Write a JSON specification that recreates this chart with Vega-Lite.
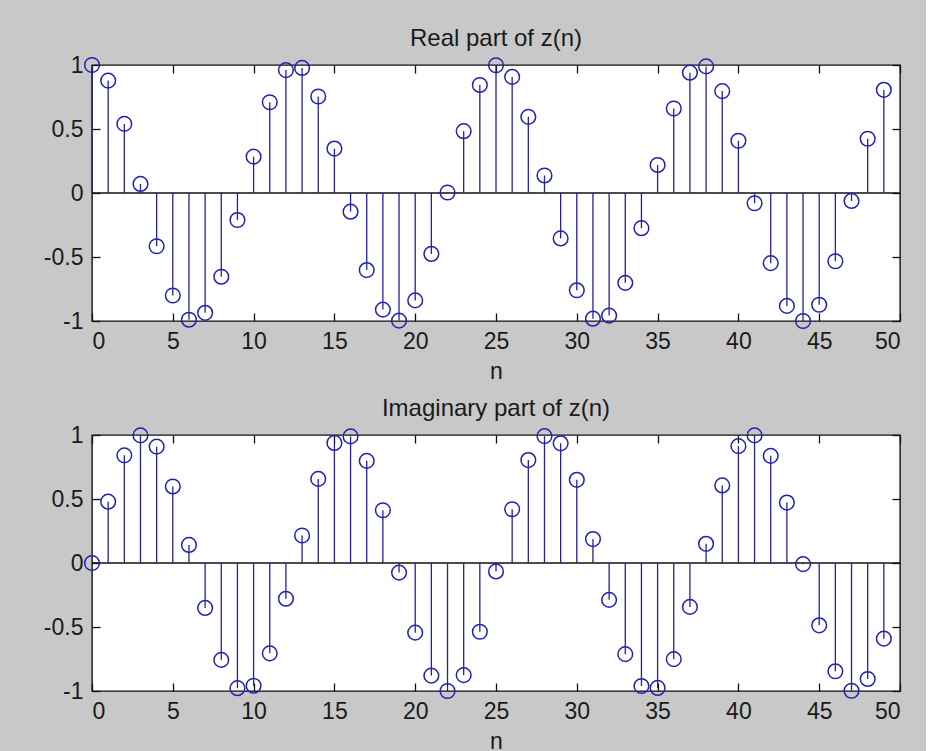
{
  "$schema": "https://vega.github.io/schema/vega-lite/v6.json",
  "background": "#c8c8c8",
  "padding": {"left": 42, "top": 26, "right": 24, "bottom": 2},
  "bounds": "flush",
  "spacing": 114,
  "config": {
    "font": "Liberation Sans",
    "view": {"stroke": "#111111", "strokeWidth": 1.4, "fill": "white"},
    "axis": {"grid": false, "domain": false, "tickSize": -8, "tickColor": "#111111", "tickWidth": 1.3, "labelFontSize": 23, "labelColor": "#1a1a1a", "labelPadding": 17, "titleFontSize": 23, "titleFontWeight": "normal", "titleColor": "#1a1a1a", "titlePadding": 7},
    "title": {"fontSize": 24, "fontWeight": "normal", "color": "#1a1a1a", "offset": 3}
  },
  "datasets": {
    "z": [
      {"n":0,"re":1,"im":0},{"n":1,"re":0.878,"im":0.479},{"n":2,"re":0.54,"im":0.841},{"n":3,"re":0.071,"im":0.997},{"n":4,"re":-0.416,"im":0.909},
      {"n":5,"re":-0.801,"im":0.598},{"n":6,"re":-0.99,"im":0.141},{"n":7,"re":-0.936,"im":-0.351},{"n":8,"re":-0.654,"im":-0.757},{"n":9,"re":-0.211,"im":-0.978},
      {"n":10,"re":0.284,"im":-0.959},{"n":11,"re":0.709,"im":-0.706},{"n":12,"re":0.96,"im":-0.279},{"n":13,"re":0.977,"im":0.215},{"n":14,"re":0.754,"im":0.657},
      {"n":15,"re":0.347,"im":0.938},{"n":16,"re":-0.146,"im":0.989},{"n":17,"re":-0.602,"im":0.798},{"n":18,"re":-0.911,"im":0.412},{"n":19,"re":-0.997,"im":-0.075},
      {"n":20,"re":-0.839,"im":-0.544},{"n":21,"re":-0.476,"im":-0.88},{"n":22,"re":0.004,"im":-1},{"n":23,"re":0.483,"im":-0.876},{"n":24,"re":0.844,"im":-0.537},
      {"n":25,"re":0.998,"im":-0.066},{"n":26,"re":0.907,"im":0.42},{"n":27,"re":0.595,"im":0.804},{"n":28,"re":0.137,"im":0.991},{"n":29,"re":-0.355,"im":0.935},
      {"n":30,"re":-0.76,"im":0.65},{"n":31,"re":-0.982,"im":0.187},{"n":32,"re":-0.958,"im":-0.288},{"n":33,"re":-0.702,"im":-0.712},{"n":34,"re":-0.275,"im":-0.961},
      {"n":35,"re":0.219,"im":-0.976},{"n":36,"re":0.66,"im":-0.751},{"n":37,"re":0.94,"im":-0.343},{"n":38,"re":0.989,"im":0.15},{"n":39,"re":0.796,"im":0.606},
      {"n":40,"re":0.408,"im":0.913},{"n":41,"re":-0.08,"im":0.997},{"n":42,"re":-0.548,"im":0.837},{"n":43,"re":-0.882,"im":0.472},{"n":44,"re":-1,"im":-0.009},
      {"n":45,"re":-0.873,"im":-0.487},{"n":46,"re":-0.533,"im":-0.846},{"n":47,"re":-0.062,"im":-0.998},{"n":48,"re":0.424,"im":-0.906},{"n":49,"re":0.806,"im":-0.591}
    ]
  },
  "vconcat": [
    {
      "width": 808, "height": 256,
      "title": "Real part of z(n)",
      "data": {"name": "z"},
      "resolve": {"axis": {"x": "independent", "y": "independent"}},
      "layer": [
        {
          "data": {"values": [{}]},
          "mark": {"type": "rule", "color": "#111111", "strokeWidth": 1.5},
          "encoding": {"y": {"datum": 0, "type": "quantitative", "scale": {"domain": [-1, 1], "nice": false}, "axis": null}}
        },
        {
          "mark": {"type": "rule", "color": "#22229c", "strokeWidth": 1.3},
          "encoding": {
            "x": {"field": "n", "type": "quantitative", "scale": {"domain": [0, 50], "nice": false}, "axis": {"values": [0,5,10,15,20,25,30,35,40,45,50], "title": "n"}},
            "y": {"field": "re", "type": "quantitative", "scale": {"domain": [-1, 1], "nice": false}, "axis": {"values": [-1,-0.5,0,0.5,1], "labelExpr": "'' + datum.value", "title": null}},
            "y2": {"datum": 0}
          }
        },
        {
          "mark": {"type": "point", "shape": "circle", "size": 215, "color": "#2222b0", "strokeWidth": 1.5, "filled": false, "opacity": 1},
          "encoding": {
            "x": {"field": "n", "type": "quantitative", "axis": {"orient": "top", "values": [0,5,10,15,20,25,30,35,40,45,50], "labels": false, "title": null}},
            "y": {"field": "re", "type": "quantitative", "axis": {"orient": "right", "values": [-1,-0.5,0,0.5,1], "labels": false, "title": null}}
          }
        }
      ]
    },
    {
      "width": 808, "height": 256,
      "title": "Imaginary part of z(n)",
      "data": {"name": "z"},
      "resolve": {"axis": {"x": "independent", "y": "independent"}},
      "layer": [
        {
          "data": {"values": [{}]},
          "mark": {"type": "rule", "color": "#111111", "strokeWidth": 1.5},
          "encoding": {"y": {"datum": 0, "type": "quantitative", "scale": {"domain": [-1, 1], "nice": false}, "axis": null}}
        },
        {
          "mark": {"type": "rule", "color": "#22229c", "strokeWidth": 1.3},
          "encoding": {
            "x": {"field": "n", "type": "quantitative", "scale": {"domain": [0, 50], "nice": false}, "axis": {"values": [0,5,10,15,20,25,30,35,40,45,50], "title": "n"}},
            "y": {"field": "im", "type": "quantitative", "scale": {"domain": [-1, 1], "nice": false}, "axis": {"values": [-1,-0.5,0,0.5,1], "labelExpr": "'' + datum.value", "title": null}},
            "y2": {"datum": 0}
          }
        },
        {
          "mark": {"type": "point", "shape": "circle", "size": 215, "color": "#2222b0", "strokeWidth": 1.5, "filled": false, "opacity": 1},
          "encoding": {
            "x": {"field": "n", "type": "quantitative", "axis": {"orient": "top", "values": [0,5,10,15,20,25,30,35,40,45,50], "labels": false, "title": null}},
            "y": {"field": "im", "type": "quantitative", "axis": {"orient": "right", "values": [-1,-0.5,0,0.5,1], "labels": false, "title": null}}
          }
        }
      ]
    }
  ]
}
